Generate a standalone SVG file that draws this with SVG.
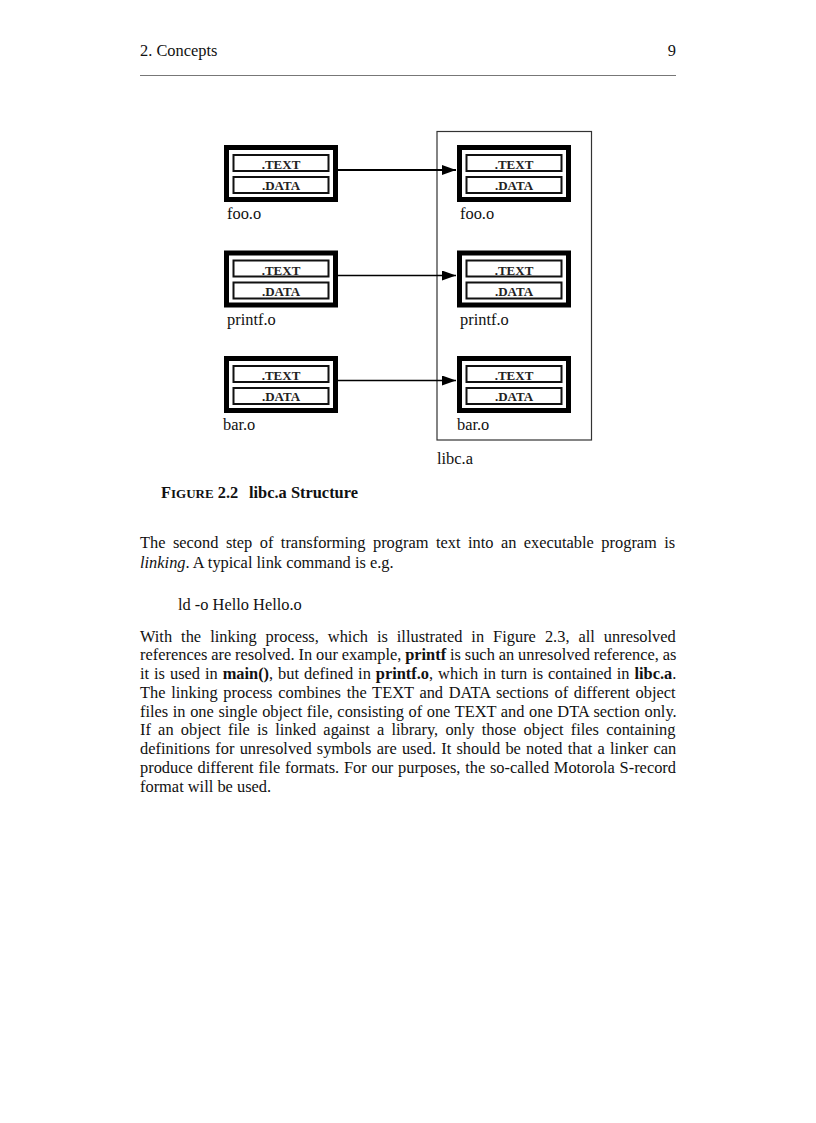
<svg xmlns="http://www.w3.org/2000/svg" width="816" height="1123" viewBox="0 0 816 1123">
<defs>
<style>
.t{font-family:"Liberation Serif","Times New Roman",serif;font-size:16.4px;fill:#111}
.b{font-weight:bold}
.sec{font-family:"Liberation Serif","Times New Roman",serif;font-size:13px;font-weight:bold;fill:#222;text-anchor:middle}
.outer{fill:#fff;stroke:#000;stroke-width:5}
.inner{fill:#fff;stroke:#111;stroke-width:2}
.conn{stroke:#000;fill:none}
</style>
<marker id="ah" markerUnits="userSpaceOnUse" markerWidth="14" markerHeight="10" refX="14" refY="5" orient="auto">
<path d="M0,0 L14,5 L0,10 z" fill="#000"/>
</marker>
<g id="obj">
<rect class="outer" x="2.5" y="2.5" width="109" height="52"/>
<rect class="inner" x="9.5" y="10" width="95" height="16"/>
<rect class="inner" x="9.5" y="32" width="95" height="16"/>
<text class="sec" x="57" y="24">.TEXT</text>
<text class="sec" x="57" y="45">.DATA</text>
</g>
</defs>
<rect width="816" height="1123" fill="#fff"/>

<g id="header">
<text class="t" x="140" y="55.5">2. Concepts</text>
<text class="t" x="676" y="55.5" text-anchor="end">9</text>
<line x1="140" y1="75.5" x2="676" y2="75.5" stroke="#777" stroke-width="1"/>
</g>

<g id="libc">
<rect x="437" y="131.5" width="154.5" height="308.5" fill="none" stroke="#333" stroke-width="1.2"/>
<text class="t" x="437" y="464">libc.a</text>
</g>

<g id="foo-left" transform="translate(224,145)"><use href="#obj"/><text class="t" x="3" y="74">foo.o</text></g>
<g id="printf-left" transform="translate(224,250.5)"><use href="#obj"/><text class="t" x="3" y="74">printf.o</text></g>
<g id="bar-left" transform="translate(224,356)"><use href="#obj"/><text class="t" x="-1" y="74">bar.o</text></g>
<g id="foo-right" transform="translate(457,145)"><use href="#obj"/><text class="t" x="3" y="74">foo.o</text></g>
<g id="printf-right" transform="translate(457,250.5)"><use href="#obj"/><text class="t" x="3" y="74">printf.o</text></g>
<g id="bar-right" transform="translate(457,356)"><use href="#obj"/><text class="t" x="0" y="74">bar.o</text></g>

<g id="connectors">
<line class="conn" x1="338" y1="170" x2="456" y2="170" stroke-width="2" marker-end="url(#ah)"/>
<line class="conn" x1="338" y1="275.5" x2="456" y2="275.5" stroke-width="1.4" marker-end="url(#ah)"/>
<line class="conn" x1="338" y1="380.5" x2="456" y2="380.5" stroke-width="1.4" marker-end="url(#ah)"/>
</g>

<g id="caption">
<text class="t b" x="161" y="497.5">F<tspan font-size="13px">IGURE</tspan> 2.2</text>
<text class="t b" x="249" y="497.5">libc.a Structure</text>
</g>

<g id="body">
<text class="t" x="140" y="548" word-spacing="3.35">The second step of transforming program text into an executable program is</text>
<text class="t" x="140" y="567.5"><tspan font-style="italic">linking</tspan>. A typical link command is e.g.</text>
<text class="t" x="178" y="609.5">ld -o Hello Hello.o</text>
<text class="t" x="140" y="641.5" word-spacing="4.9">With the linking process, which is illustrated in Figure 2.3, all unresolved</text>
<text class="t" x="140" y="660.25" word-spacing="-0.25">references are resolved. In our example, <tspan class="b">printf</tspan> is such an unresolved reference, as</text>
<text class="t" x="140" y="679" word-spacing="0.85">it is used in <tspan class="b">main()</tspan>, but defined in <tspan class="b">printf.o</tspan>, which in turn is contained in <tspan class="b">libc.a</tspan>.</text>
<text class="t" x="140" y="697.75" word-spacing="1.6">The linking process combines the TEXT and DATA sections of different object</text>
<text class="t" x="140" y="716.5" word-spacing="0.5">files in one single object file, consisting of one TEXT and one DTA section only.</text>
<text class="t" x="140" y="735.25" word-spacing="3.1">If an object file is linked against a library, only those object files containing</text>
<text class="t" x="140" y="754" word-spacing="1.12">definitions for unresolved symbols are used. It should be noted that a linker can</text>
<text class="t" x="140" y="772.75" word-spacing="0.65">produce different file formats. For our purposes, the so-called Motorola S-record</text>
<text class="t" x="140" y="791.5">format will be used.</text>
</g>
</svg>
